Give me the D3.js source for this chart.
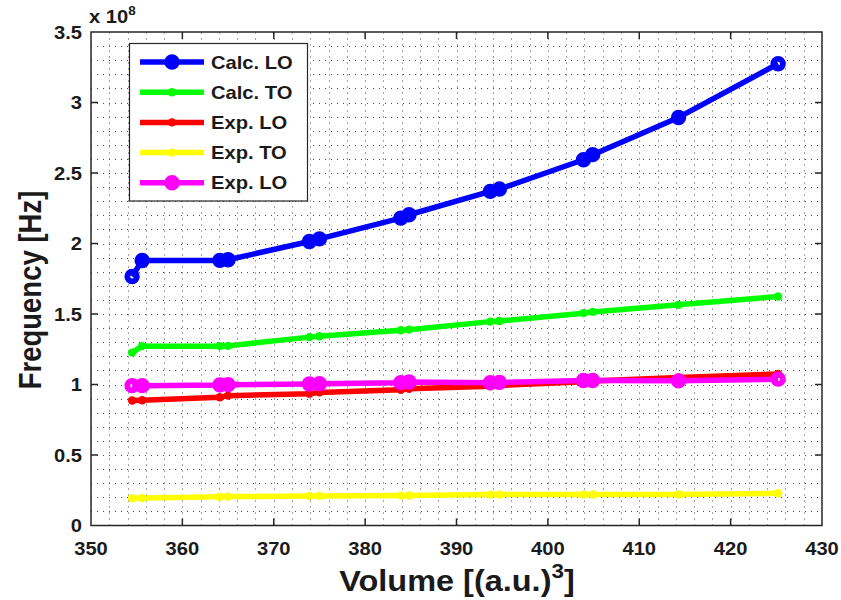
<!DOCTYPE html>
<html>
<head>
<meta charset="utf-8">
<script src="https://cdn.jsdelivr.net/npm/d3@7"></script>
<style>
  html, body { margin: 0; padding: 0; background: #fff; }
  svg { display: block; }
  text { font-family: "Liberation Sans", Arial, sans-serif; font-weight: bold; fill: #1a1a1a; }
</style>
</head>
<body>
<svg id="chart" width="841" height="600"></svg>
<script>
// Cell volume, (a.u.)^3
const volume = [354.5, 355.6, 364.1, 365.0, 373.9, 375.0, 383.9, 384.8, 393.7, 394.7, 403.9, 404.9, 414.3, 425.2];

// Phonon frequencies, units of 1e8 Hz
const calcLO = [1.766, 1.879, 1.880, 1.885, 2.014, 2.033, 2.180, 2.204, 2.370, 2.386, 2.594, 2.630, 2.894, 3.275];
const calcTO = [1.226, 1.272, 1.272, 1.274, 1.336, 1.342, 1.385, 1.389, 1.446, 1.450, 1.506, 1.515, 1.565, 1.624];
const expLO  = [0.886, 0.888, 0.910, 0.921, 0.935, 0.944, 0.962, 0.970, 0.988, 0.993, 1.020, 1.025, 1.050, 1.075];
const expTO  = [0.193, 0.195, 0.204, 0.205, 0.209, 0.210, 0.212, 0.213, 0.219, 0.219, 0.219, 0.220, 0.220, 0.229];
const expLO2 = [0.992, 0.992, 0.997, 0.999, 1.004, 1.005, 1.013, 1.018, 1.013, 1.015, 1.028, 1.028, 1.026, 1.038];

const seriesNames = ["Calc. LO", "Calc. TO", "Exp. LO", "Exp. TO", "Exp. LO"];
const seriesValues = [calcLO, calcTO, expLO, expTO, expLO2];
const seriesColors = ["#0000ff", "#00ff00", "#ff0000", "#ffff00", "#ff00ff"];
const seriesMarkers = ["ring", "dot", "dot", "dot", "ring"];

const xTicks = [350, 360, 370, 380, 390, 400, 410, 420, 430];
const yTicks = [0, 0.5, 1, 1.5, 2, 2.5, 3, 3.5];
const xMinor = d3.range(350, 430.01, 2);
const yMinor = d3.range(0, 3.501, 0.1);

const svg = d3.select("#chart");
const plotL = 91, plotR = 822, plotT = 32, plotB = 525.5;
const x = d3.scaleLinear().domain([350, 430]).range([plotL, plotR]);
const y = d3.scaleLinear().domain([0, 3.5]).range([plotB, plotT]);

const SX = 1.12; // horizontal glyph stretch

function label(g, px, py, str, size, anchor, rot) {
  const t = g.append("text")
    .attr("transform", rot
      ? `translate(${px},${py}) rotate(-90) scale(1,${SX})`
      : `translate(${px},${py}) scale(${SX},1)`)
    .attr("text-anchor", anchor)
    .style("font-size", size + "px");
  t.text(str);
  return t;
}

// background
svg.append("rect").attr("x", plotL).attr("y", plotT)
  .attr("width", plotR - plotL).attr("height", plotB - plotT).attr("fill", "#fff");

// dotted grid
const grid = svg.append("g").attr("stroke", "#2a2a2a").attr("stroke-width", 1)
  .attr("stroke-dasharray", "1,5").attr("opacity", 0.85);
grid.selectAll("line.v").data(xMinor.slice(1, -1)).join("line")
  .attr("class", "v")
  .attr("x1", d => Math.round(x(d)) + 0.5).attr("x2", d => Math.round(x(d)) + 0.5)
  .attr("y1", plotB).attr("y2", plotT);
grid.selectAll("line.h").data(yMinor.slice(1, -1)).join("line")
  .attr("class", "h")
  .attr("y1", d => Math.round(y(d)) + 0.5).attr("y2", d => Math.round(y(d)) + 0.5)
  .attr("x1", plotL).attr("x2", plotR);

// series lines and markers
seriesValues.forEach((vals, i) => {
  const pts = volume.map((v, j) => [v, vals[j]]);
  const g = svg.append("g");
  g.append("path").datum(pts)
    .attr("d", d3.line().x(d => x(d[0])).y(d => y(d[1])))
    .attr("fill", "none").attr("stroke", seriesColors[i])
    .attr("stroke-width", 5.5).attr("stroke-linejoin", "round");
  if (seriesMarkers[i] === "ring") {
    g.selectAll("circle").data(pts).join("circle")
      .attr("cx", d => x(d[0])).attr("cy", d => y(d[1])).attr("r", 4.8)
      .attr("fill", "none").attr("stroke", seriesColors[i]).attr("stroke-width", 5.8);
  } else {
    g.selectAll("circle").data(pts).join("circle")
      .attr("cx", d => x(d[0])).attr("cy", d => y(d[1])).attr("r", 4.2)
      .attr("fill", seriesColors[i]);
  }
});

// axes box and ticks
const axisColor = "#262626";
const ax = svg.append("g").attr("stroke", axisColor).attr("stroke-width", 1.5);
ax.append("rect").attr("x", plotL).attr("y", plotT)
  .attr("width", plotR - plotL).attr("height", plotB - plotT).attr("fill", "none");
const tl = 7;
xTicks.slice(1, -1).forEach(t => {
  ax.append("line").attr("x1", x(t)).attr("x2", x(t)).attr("y1", plotB).attr("y2", plotB - tl);
  ax.append("line").attr("x1", x(t)).attr("x2", x(t)).attr("y1", plotT).attr("y2", plotT + tl);
});
yTicks.slice(1, -1).forEach(t => {
  ax.append("line").attr("y1", y(t)).attr("y2", y(t)).attr("x1", plotL).attr("x2", plotL + tl);
  ax.append("line").attr("y1", y(t)).attr("y2", y(t)).attr("x1", plotR).attr("x2", plotR - tl);
});

// tick labels
const lab = svg.append("g");
xTicks.forEach(t => label(lab, x(t), plotB + 29, d3.format("d")(t), 18, "middle"));
yTicks.forEach(t => label(lab, plotL - 9, y(t) + 6.5, String(t), 18, "end"));

// exponent marker
const ex = label(lab, 89, 23, "x 10", 18, "start");
ex.append("tspan").attr("dy", -8).style("font-size", "12px").text("8");

// axis titles
const xt = label(lab, 457, 591, "Volume [(a.u.)", 29, "middle");
xt.append("tspan").attr("dy", -13).style("font-size", "20px").text("3");
xt.append("tspan").attr("dy", 13).text("]");
label(lab, 41, 290, "Frequency [Hz]", 27.5, "middle", true);

// legend
const lg = svg.append("g");
lg.append("rect").attr("x", 129.5).attr("y", 43.5).attr("width", 178).attr("height", 157.5)
  .attr("fill", "#fff").attr("stroke", axisColor).attr("stroke-width", 1.2);
seriesNames.forEach((name, i) => {
  const cy = 62 + i * 30.2;
  lg.append("line").attr("x1", 140).attr("x2", 204).attr("y1", cy).attr("y2", cy)
    .attr("stroke", seriesColors[i]).attr("stroke-width", 5.5);
  if (seriesMarkers[i] === "ring") {
    lg.append("circle").attr("cx", 172).attr("cy", cy).attr("r", 4.8)
      .attr("fill", "none").attr("stroke", seriesColors[i]).attr("stroke-width", 5.8);
  } else {
    lg.append("circle").attr("cx", 172).attr("cy", cy).attr("r", 4.2).attr("fill", seriesColors[i]);
  }
  label(lg, 211, cy + 6.5, name, 18, "start");
});
</script>
</body>
</html>
